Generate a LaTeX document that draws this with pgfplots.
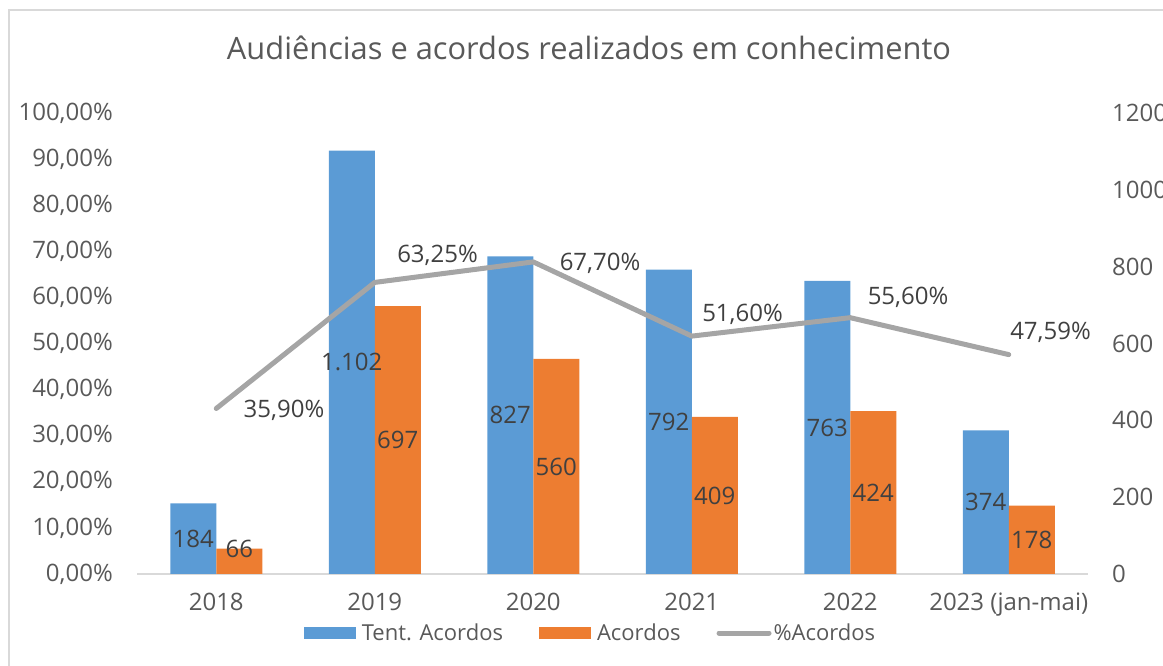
\documentclass[border=0pt]{standalone}
\usepackage{pgfplots}
\pgfplotsset{compat=1.18}
\usepackage{pgfplotstable}
\usepackage{fontspec}
\setmainfont{Open Sans}
\definecolor{txt}{HTML}{595959}
\definecolor{lab}{HTML}{404040}
\definecolor{cblue}{HTML}{5B9BD5}
\definecolor{corange}{HTML}{ED7D31}
\definecolor{cgray}{HTML}{A5A5A5}
\definecolor{cborder}{HTML}{D9D9D9}
\newcommand{\tfont}{\fontsize{24}{28}\selectfont}

\pgfplotstableread{
x tent tlab acordos alab ady
0 184 184 66 66 12
1 1102 1.102 697 697 0
2 827 827 560 560 0
3 792 792 409 409 0
4 763 763 424 424 0
5 374 374 178 178 0
}\bars

\pgfplotstableread{
x p lab dx dy
0 35.90 35,90 25 -2
1 63.25 63,25 20 27
2 67.70 67,70 24 -1
3 51.60 51,60 8 22
4 55.60 55,60 15 20
5 47.59 47,59 -1 22
}\pct

\begin{document}
\begin{tikzpicture}
\useasboundingbox (0,0) rectangle (1163pt,666pt);
\draw[cborder, line width=2pt] (9pt,0) -- (9pt,656pt) -- (1163pt,656pt);
\node[text=txt, font=\fontsize{30.8}{36}\selectfont] at (589pt,618pt) {Audiências e acordos realizados em conhecimento};

\begin{axis}[
  at={(137pt,92pt)}, anchor=south west,
  width=951pt, height=461pt, scale only axis,
  xmin=-0.5, xmax=5.5, ymin=0, ymax=1200,
  enlargelimits=false, clip=false,
  axis x line*=bottom, axis y line*=right,
  x axis line style={cborder, line width=1.5pt},
  y axis line style={draw=none},
  major tick length=0pt,
  xtick={0,1,2,3,4,5},
  xticklabels={2018,2019,2020,2021,2022,2023 (jan-mai)},
  ytick={0,200,...,1200},
  /pgf/number format/assume math mode=true,
  /pgf/number format/1000 sep={},
  tick label style={font=\tfont, text=txt, inner sep=0pt},
  xticklabel style={anchor=base, yshift=-37pt},
  yticklabel style={anchor=west, xshift=24pt},
  ybar=0pt, bar width=46pt,
  nodes near coords, point meta=explicit symbolic,
  every node near coord/.append style={font=\tfont, text=lab, anchor=center, inner sep=0pt},
  legend columns=3,
  legend style={at={(0.4758,-0.128)}, anchor=center, draw=none, fill=none,
    font=\fontsize{22}{26}\selectfont, text=txt, inner sep=0pt,
    /tikz/every even column/.append style={column sep=36pt},
    nodes={inner sep=0pt}},
  legend cell align=left,
]
\addplot[fill=cblue, draw=none,
  legend image code/.code={\fill[cblue, draw=none] (0pt,-6pt) rectangle (52pt,6pt); \path[draw=none, fill=none] (0pt,0pt) -- (58pt,0pt);},
  visualization depends on={\thisrow{tent} \as \vv},
  every node near coord/.append style={yshift={-\vv*0.1920833pt}}]
  table[x=x, y=tent, meta=tlab] {\bars};
\addlegendentry{Tent. Acordos}
\addplot[fill=corange, draw=none,
  legend image code/.code={\fill[corange, draw=none] (0pt,-6pt) rectangle (52pt,6pt); \path[draw=none, fill=none] (0pt,0pt) -- (58pt,0pt);},
  visualization depends on={\thisrow{acordos} \as \vv},
  visualization depends on={\thisrow{ady} \as \dd},
  every node near coord/.append style={yshift={-\vv*0.1920833pt+\dd pt}}]
  table[x=x, y=acordos, meta=alab] {\bars};
\addlegendentry{Acordos}
\addlegendimage{draw=none, fill=none, legend image code/.code={\draw[draw=cgray, line width=5pt, line cap=round] (2.5pt,0pt) -- (52.5pt,0pt); \path[draw=none, fill=none] (0pt,0pt) -- (57pt,0pt);}}
\addlegendentry{\%Acordos}
\end{axis}

\begin{axis}[
  at={(137pt,92pt)}, anchor=south west,
  width=951pt, height=461pt, scale only axis,
  xmin=-0.5, xmax=5.5, ymin=0, ymax=100,
  enlargelimits=false, clip=false,
  axis y line*=left, hide x axis,
  y axis line style={draw=none},
  major tick length=0pt,
  ytick={0,10,...,100},
  yticklabel={\pgfmathprintnumber[fixed, fixed zerofill, precision=2, use comma]{\tick}\%},
  /pgf/number format/assume math mode=true,
  tick label style={font=\tfont, text=txt, inner sep=0pt},
  yticklabel style={anchor=east, xshift=-24pt},
]
\addplot[cgray, line width=5pt, line cap=round, line join=round, mark=none,
  nodes near coords={\pgfplotspointmeta\%}, point meta=explicit symbolic,
  visualization depends on={\thisrow{dx} \as \ldx},
  visualization depends on={\thisrow{dy} \as \ldy},
  every node near coord/.append style={font=\tfont, text=lab, anchor=west, inner sep=0pt,
    xshift=\ldx pt, yshift=\ldy pt}]
  table[x=x, y=p, meta=lab] {\pct};
\end{axis}
\end{tikzpicture}
\end{document}
